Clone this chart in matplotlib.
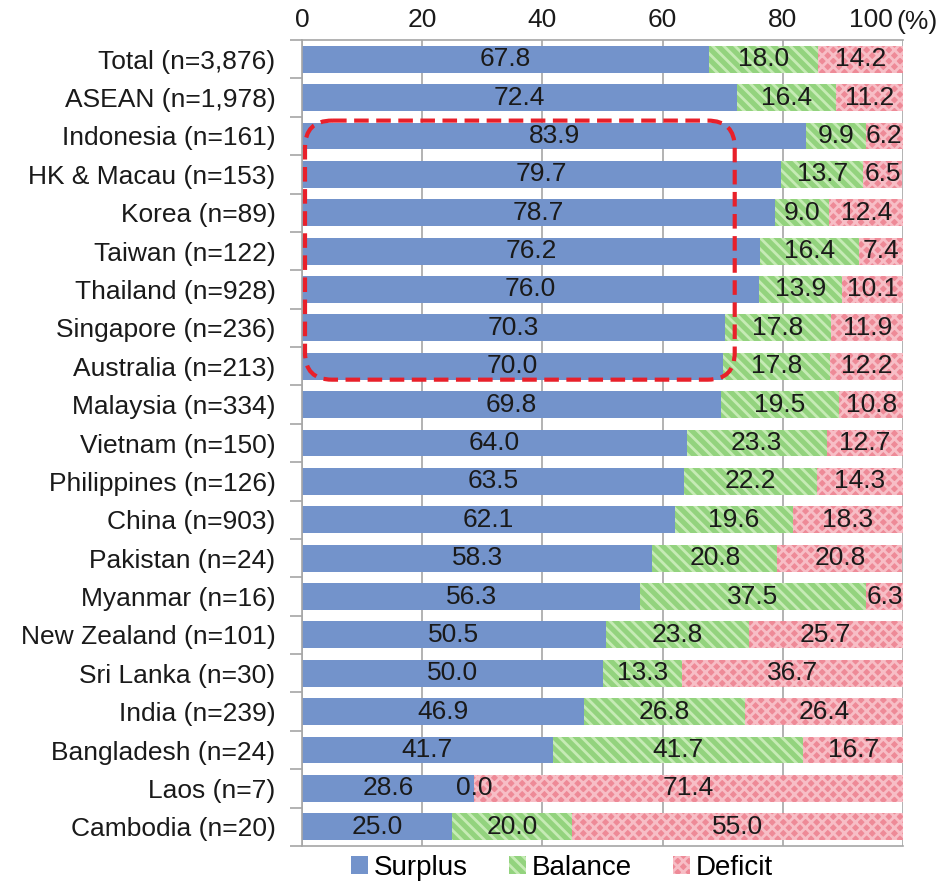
import matplotlib
matplotlib.use("Agg")
import matplotlib.pyplot as plt
from matplotlib.patches import FancyBboxPatch, Patch
from matplotlib.transforms import ScaledTranslation
import numpy as np

plt.rcParams['font.family'] = ['Liberation Sans', 'DejaVu Sans']
plt.rcParams['hatch.linewidth'] = 2.0

categories = ["Total (n=3,876)", "ASEAN (n=1,978)", "Indonesia (n=161)", "HK & Macau (n=153)",
              "Korea (n=89)", "Taiwan (n=122)", "Thailand (n=928)", "Singapore (n=236)",
              "Australia (n=213)", "Malaysia (n=334)", "Vietnam (n=150)", "Philippines (n=126)",
              "China (n=903)", "Pakistan (n=24)", "Myanmar (n=16)", "New Zealand (n=101)",
              "Sri Lanka (n=30)", "India (n=239)", "Bangladesh (n=24)", "Laos (n=7)",
              "Cambodia (n=20)"]
surplus = [67.8, 72.4, 83.9, 79.7, 78.7, 76.2, 76.0, 70.3, 70.0, 69.8, 64.0, 63.5, 62.1,
           58.3, 56.3, 50.5, 50.0, 46.9, 41.7, 28.6, 25.0]
balance = [18.0, 16.4, 9.9, 13.7, 9.0, 16.4, 13.9, 17.8, 17.8, 19.5, 23.3, 22.2, 19.6,
           20.8, 37.5, 23.8, 13.3, 26.8, 41.7, 0.0, 20.0]
deficit = [14.2, 11.2, 6.2, 6.5, 12.4, 7.4, 10.1, 11.9, 12.2, 10.8, 12.7, 14.3, 18.3,
           20.8, 6.3, 25.7, 36.7, 26.4, 16.7, 71.4, 55.0]
series_names = ["Surplus", "Balance", "Deficit"]
xticks = [0, 20, 40, 60, 80, 100]

blue = '#7393CB'
green = '#93D37E'
green_h = '#C6EBB5'
red = '#EE8A97'
red_h = '#F7BEC6'
txt = '#1a1a1a'

fig = plt.figure(figsize=(9.4, 8.83), dpi=100)
ax = fig.add_axes([302/940, 1-846/883, 601/940, 806/883])

n = len(categories)
y = np.arange(n)
s = np.array(surplus); b = np.array(balance); d = np.array(deficit)
h = 0.7
ax.barh(y, s, height=h, color=blue, linewidth=0, zorder=2)
ax.barh(y, b, left=s, height=h, color=green, edgecolor=green_h, hatch='\\\\\\', linewidth=0, zorder=2)
ax.barh(y, d, left=s + b, height=h, color=red, edgecolor=red_h, hatch='xxx', linewidth=0, zorder=2)

fs = 19
for i in range(n):
    ax.text(s[i] / 2, y[i], f"{s[i]:.1f}", ha='center', va='center', fontsize=fs, color=txt, zorder=5)
    ax.text(s[i] + b[i] / 2, y[i], f"{b[i]:.1f}", ha='center', va='center', fontsize=fs, color=txt, zorder=5)
    ax.text(s[i] + b[i] + d[i] / 2, y[i], f"{d[i]:.1f}", ha='center', va='center', fontsize=fs, color=txt, zorder=5)

ax.set_xlim(0, 100)
ax.set_ylim(n - 0.5, -0.5)
ax.xaxis.tick_top()
ax.set_xticks(xticks)
ax.set_xticklabels([str(t) for t in xticks], fontsize=fs)
ax.tick_params(axis='x', length=0, pad=6, colors=txt)
ax.grid(axis='x', color='#A6A6A6', linewidth=1.2, zorder=0)
ax.set_axisbelow(True)
# shift the "100" label left to make room for the "(%)" unit
lab100 = ax.get_xticklabels()[-1]
lab100.set_transform(lab100.get_transform() + ScaledTranslation(-0.32, 0, fig.dpi_scale_trans))

ax.set_yticks(y)
ax.set_yticklabels(categories, fontsize=fs, color=txt)
ax.tick_params(axis='y', which='major', length=0, pad=19)
ax.set_yticks(np.arange(-0.5, n, 1.0), minor=True)
ax.tick_params(axis='y', which='minor', length=9, color='#A6A6A6', width=1.2)

for side in ['left', 'bottom', 'top']:
    ax.spines[side].set_color('#A6A6A6')
    ax.spines[side].set_linewidth(1.2)
ax.spines['right'].set_visible(False)

ax.annotate("(%)", xy=(1, 1), xycoords='axes fraction', xytext=(-5, 4.5), textcoords='offset points',
            fontsize=fs, ha='left', va='bottom', color=txt)

# red dashed rounded rectangle highlight
xs = 601 / 100.0
ys = 806 / n
box = FancyBboxPatch((0.5, 1.6), 71.5, 6.75,
                     boxstyle="round,pad=0,rounding_size=4.5",
                     mutation_aspect=xs / ys,
                     fill=False, edgecolor='#E8202A', linewidth=3.0,
                     linestyle=(0, (3.5, 1.8)), zorder=6, clip_on=False)
ax.add_patch(box)

handles = [Patch(facecolor=blue, linewidth=0),
           Patch(facecolor=green, edgecolor=green_h, hatch='\\\\\\', linewidth=0),
           Patch(facecolor=red, edgecolor=red_h, hatch='xxx', linewidth=0)]
fig.legend(handles, series_names, loc='center', bbox_to_anchor=(0.598, 1 - 868/883),
           ncol=3, frameon=False, fontsize=20, handlelength=0.6, handleheight=0.6,
           handletextpad=0.2, columnspacing=1.5, borderpad=0)

fig.savefig("out.png", dpi=100)
